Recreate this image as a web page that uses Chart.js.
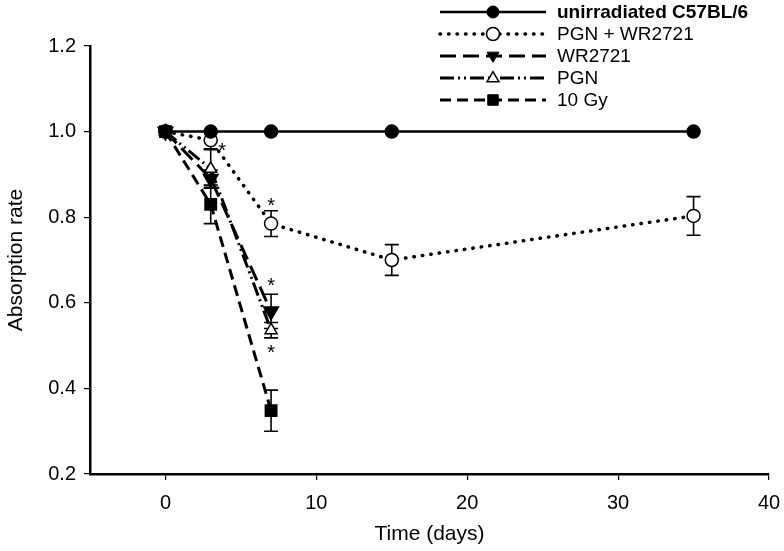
<!DOCTYPE html>
<html><head><meta charset="utf-8">
<script src="https://cdn.jsdelivr.net/npm/chart.js@4"></script>
<style>html,body{margin:0;padding:0;background:#fff}#wrap{width:784px;height:551px}</style>
</head><body><div id="wrap"><canvas id="c" width="784" height="551"></canvas></div>
<script>
// ---- data ----
const days = [0, 3, 7, 15, 35];
const shortDays = [0, 3, 7];
const seriesNames = ['unirradiated C57BL/6', 'PGN + WR2721', 'WR2721', 'PGN', '10 Gy'];
const unirradiated = [1.0, 1.0, 1.0, 1.0, 1.0];
const unirradiatedErr = [0, 0, 0, 0, 0];
const pgnWr = [1.0, 0.98, 0.785, 0.70, 0.803];
const pgnWrErr = [0, 0.02, 0.03, 0.036, 0.045];
const wr = [1.0, 0.89, 0.58];
const wrErr = [0, 0.02, 0.04];
const pgn = [1.0, 0.913, 0.536];
const pgnErr = [0, 0.045, 0.018];
const gy10 = [1.0, 0.83, 0.348];
const gy10Err = [0, 0.045, 0.048];
const xTicks = [0, 10, 20, 30, 40];
const yTicks = [0.2, 0.4, 0.6, 0.8, 1.0, 1.2];
const starX = [3.75, 7, 7, 7];
const starY = [0.962, 0.835, 0.648, 0.49];

const pts = (xs, ys) => xs.map((x, i) => ({x: x, y: ys[i]}));
const FONT = "'Liberation Sans', Arial, sans-serif";

const datasets = [
  {label: seriesNames[0], data: pts(days, unirradiated), err: unirradiatedErr,
   borderColor: '#000', borderWidth: 2.5, pointStyle: 'circle', pointRadius: 6,
   pointBackgroundColor: '#000', pointBorderColor: '#000', borderDash: [], order: 2},
  {label: seriesNames[1], data: pts(days, pgnWr), err: pgnWrErr,
   borderColor: '#000', borderWidth: 3.5, borderDash: [0.5, 8], borderCapStyle: 'round',
   pointStyle: 'circle', pointRadius: 6.5, pointBorderWidth: 1.5,
   pointBackgroundColor: '#fff', pointBorderColor: '#000', order: 3},
  {label: seriesNames[2], data: pts(shortDays, wr), err: wrErr,
   borderColor: '#000', borderWidth: 3, borderDash: [16, 7],
   pointStyle: 'triangle', pointRotation: 180, pointRadius: 7,
   pointBackgroundColor: '#000', pointBorderColor: '#000', order: 4},
  {label: seriesNames[3], data: pts(shortDays, pgn), err: pgnErr,
   borderColor: '#000', borderWidth: 3, borderDash: [14, 4, 2, 4, 2, 4],
   pointStyle: 'triangle', pointRadius: 7, pointBorderWidth: 1.5,
   pointBackgroundColor: '#fff', pointBorderColor: '#000', order: 5},
  {label: seriesNames[4], data: pts(shortDays, gy10), err: gy10Err,
   borderColor: '#000', borderWidth: 3, borderDash: [11, 6],
   pointStyle: 'rect', pointRadius: 7,
   pointBackgroundColor: '#000', pointBorderColor: '#000', order: 1}
];
datasets.forEach(d => { d.fill = false; d.tension = 0; });

function drawMarker(ctx, ds, x, y) {
  ctx.save();
  ctx.setLineDash([]);
  ctx.fillStyle = ds.pointBackgroundColor;
  ctx.strokeStyle = ds.pointBorderColor;
  ctx.lineWidth = ds.pointBorderWidth || 1;
  const r = ds.pointRadius;
  ctx.beginPath();
  if (ds.pointStyle === 'circle') {
    ctx.arc(x, y, r, 0, Math.PI * 2);
  } else if (ds.pointStyle === 'rect') {
    const s = r * 0.75;
    ctx.rect(x - s, y - s, 2 * s, 2 * s);
  } else {
    const dir = ds.pointRotation === 180 ? 1 : -1;
    ctx.moveTo(x, y + dir * r * 0.9);
    ctx.lineTo(x - r * 0.85, y - dir * r * 0.55);
    ctx.lineTo(x + r * 0.85, y - dir * r * 0.55);
    ctx.closePath();
  }
  ctx.fill();
  ctx.stroke();
  ctx.restore();
}

const errorBars = {
  id: 'errorBars',
  beforeDatasetsDraw(chart) {
    const ctx = chart.ctx, xs = chart.scales.x, ys = chart.scales.y;
    ctx.save();
    ctx.strokeStyle = '#000';
    ctx.lineWidth = 1.6;
    ctx.setLineDash([]);
    chart.data.datasets.forEach(ds => {
      ds.data.forEach((p, i) => {
        const e = ds.err[i];
        if (!e) return;
        const px = xs.getPixelForValue(p.x);
        const t = ys.getPixelForValue(p.y + e), b = ys.getPixelForValue(p.y - e);
        ctx.beginPath();
        ctx.moveTo(px, t); ctx.lineTo(px, b);
        ctx.moveTo(px - 7, t); ctx.lineTo(px + 7, t);
        ctx.moveTo(px - 7, b); ctx.lineTo(px + 7, b);
        ctx.stroke();
      });
    });
    ctx.restore();
  },
  afterDatasetsDraw(chart) {
    const ctx = chart.ctx, xs = chart.scales.x, ys = chart.scales.y;
    ctx.save();
    ctx.fillStyle = '#000';
    ctx.font = '20px ' + FONT;
    ctx.textAlign = 'center';
    ctx.textBaseline = 'middle';
    starX.forEach((sx, i) => {
      ctx.fillText('*', xs.getPixelForValue(sx), ys.getPixelForValue(starY[i]) + 4);
    });
    ctx.restore();
  }
};

const customLegend = {
  id: 'customLegend',
  afterDraw(chart) {
    const ctx = chart.ctx;
    chart.data.datasets.forEach((ds, i) => {
      const y = 12 + i * 22;
      ctx.save();
      ctx.strokeStyle = '#000';
      ctx.lineWidth = ds.borderWidth;
      ctx.lineCap = ds.borderCapStyle || 'butt';
      ctx.setLineDash(ds.borderDash || []);
      ctx.beginPath();
      ctx.moveTo(440, y); ctx.lineTo(546, y);
      ctx.stroke();
      ctx.restore();
      drawMarker(ctx, ds, 493, y);
      ctx.save();
      ctx.fillStyle = '#000';
      ctx.font = (i === 0 ? 'bold ' : '') + '19px ' + FONT;
      ctx.textAlign = 'left';
      ctx.textBaseline = 'middle';
      ctx.fillText(ds.label, 557, y + 1);
      ctx.restore();
    });
  }
};

new Chart(document.getElementById('c'), {
  type: 'line',
  data: {datasets: datasets},
  plugins: [errorBars, customLegend],
  options: {
    responsive: false,
    animation: false,
    layout: {padding: {top: 46, right: 0, left: 0, bottom: 0}},
    plugins: {legend: {display: false}, tooltip: {enabled: false}},
    elements: {line: {borderJoinStyle: 'miter'}},
    scales: {
      x: {
        type: 'linear', min: -5, max: 40,
        afterBuildTicks: s => { s.ticks = xTicks.map(v => ({value: v})); },
        afterFit: s => { s.height = 77; s.paddingRight = 15; s.paddingLeft = 0; },
        grid: {drawOnChartArea: false, drawTicks: true, tickLength: 6, color: '#000', lineWidth: 1.2},
        border: {display: true, color: '#000', width: 2.5},
        ticks: {color: '#000', font: {family: FONT, size: 20}, padding: 11, maxRotation: 0},
        title: {display: true, text: 'Time (days)', color: '#000', font: {family: FONT, size: 21}, padding: {top: 7}}
      },
      y: {
        type: 'linear', min: 0.2, max: 1.2,
        afterBuildTicks: s => { s.ticks = yTicks.map(v => ({value: v})); },
        afterFit: s => { s.width = 90; },
        grid: {drawOnChartArea: false, drawTicks: true, tickLength: 6, color: '#000', lineWidth: 1.2},
        border: {display: true, color: '#000', width: 2.5},
        ticks: {color: '#000', font: {family: FONT, size: 20}, padding: 8,
                callback: v => Number(v).toFixed(1)},
        title: {display: true, text: 'Absorption rate', color: '#000', font: {family: FONT, size: 21}, padding: {bottom: 0}}
      }
    }
  }
});
</script>
</body></html>
